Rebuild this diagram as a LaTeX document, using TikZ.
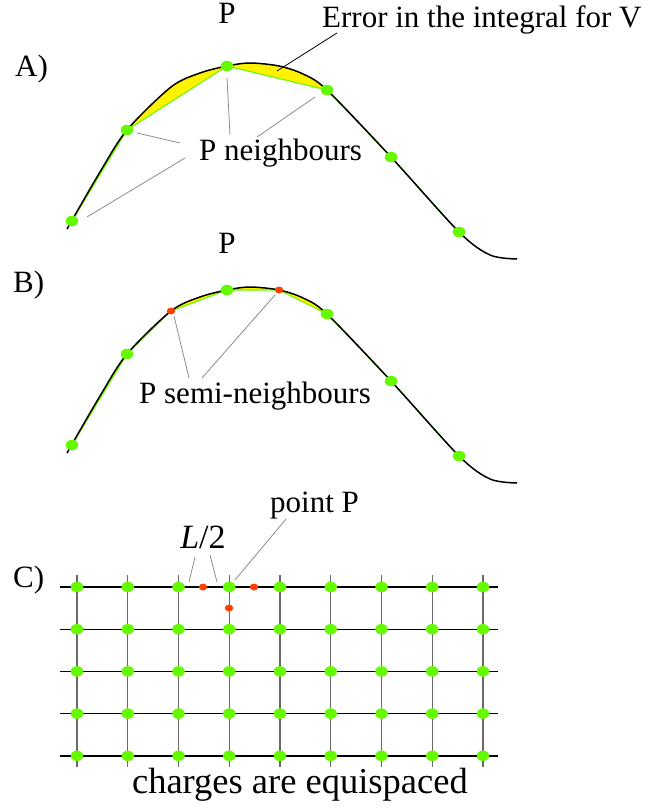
\documentclass[tikz,border=0pt]{standalone}
\usepackage{fontspec}
\setmainfont{Liberation Serif}
\usetikzlibrary{shapes.geometric,calc}
\definecolor{dotgreen}{RGB}{102,250,0}
\definecolor{dotred}{RGB}{255,64,0}
\definecolor{leadgray}{RGB}{140,140,140}
\definecolor{gridgray}{RGB}{105,105,105}
\begin{document}
\begin{tikzpicture}[x=1pt,y=-1pt,
  lbl/.style={inner sep=0pt,font=\fontsize{31}{37}\selectfont},
  gdot/.style={ellipse,fill=dotgreen,inner sep=0pt,minimum width=12.5pt,minimum height=10.5pt},
  rdot/.style={ellipse,fill=dotred,inner sep=0pt,minimum width=8.5pt,minimum height=7pt},
  curveline/.style={line width=1.5pt,black},
  polyline/.style={line width=1.1pt,dotgreen},
  leader/.style={line width=0.8pt,leadgray},
  hline/.style={line width=1.4pt,black},
  vline/.style={line width=1.4pt,gridgray}]
\useasboundingbox (0,0) rectangle (652,808);

% ---------------- Panel A ----------------
\begin{scope}
  \clip (60,0) rectangle (459,240);
  \fill[yellow] plot[smooth] coordinates {(67,229) (100,172) (127,130) (171,87) (200,73) (227,66) (250,63) (279,66) (303,74) (327,90) (391,157) (459,232) (490,255) (517,259)}
    -- (459,232) -- (391,157) -- (327,90) -- (227,66) -- (127,130) -- (72,221) -- cycle;
\end{scope}
\draw[polyline] (72,221) -- (127,130) -- (227,66) -- (327,90) -- (391,157) -- (459,232);
\draw[curveline] plot[smooth] coordinates {(67,229) (100,172) (127,130) (171,87) (200,73) (227,66) (250,63) (279,66) (303,74) (327,90) (391,157) (459,232) (490,255) (517,259)};
\node[gdot] (a1) at (72,221) {};
\node[gdot] (a2) at (127,130) {};
\node[gdot] (a3) at (227,66) {};
\node[gdot] (a4) at (327,90) {};
\node[gdot] (a5) at (391,157) {};
\node[gdot] (a6) at (459,232) {};

\node[lbl,anchor=base west] (labA) at (15,76) {A)};
\node[lbl,anchor=base] (pA) at (227,24) {P};
\node[lbl,anchor=base west] (err) at (322,28) {Error in the integral for V};
\node[lbl,anchor=base west] (pnb) at (199,160) {P neighbours};

\coordinate (e1) at (337,33); \coordinate (e2) at (277,71);
\draw[line width=0.8pt,black] (e1) -- (e2);
\coordinate (l1s) at (137,133); \coordinate (l1e) at (180,143);
\coordinate (l2s) at (87,217);  \coordinate (l2e) at (185,158);
\coordinate (l3s) at (227,78);  \coordinate (l3e) at (230,135);
\coordinate (l4s) at (315,97);  \coordinate (l4e) at (257,137);
\draw[leader] (l1s) -- (l1e);
\draw[leader] (l2s) -- (l2e);
\draw[leader] (l3s) -- (l3e);
\draw[leader] (l4s) -- (l4e);

% ---------------- Panel B ----------------
\begin{scope}[shift={(0,224)}]
  \begin{scope}
    \clip (60,0) rectangle (459,240);
    \fill[yellow] plot[smooth] coordinates {(67,229) (100,172) (127,130) (171,87) (200,73) (227,66) (250,63) (279,66) (303,74) (327,90) (391,157) (459,232) (490,255) (517,259)}
      -- (459,232) -- (391,157) -- (327,90) -- (279,66) -- (227,66) -- (171,87) -- (127,130) -- (72,221) -- cycle;
  \end{scope}
  \draw[polyline] (72,221) -- (127,130) -- (171,87) -- (227,66) -- (279,66) -- (327,90) -- (391,157) -- (459,232);
  \draw[curveline] plot[smooth] coordinates {(67,229) (100,172) (127,130) (171,87) (200,73) (227,66) (250,63) (279,66) (303,74) (327,90) (391,157) (459,232) (490,255) (517,259)};
  \node[gdot] (b1) at (72,221) {};
  \node[gdot] (b2) at (127,130) {};
  \node[gdot] (b3) at (227,66) {};
  \node[gdot] (b4) at (327,90) {};
  \node[gdot] (b5) at (391,157) {};
  \node[gdot] (b6) at (459,232) {};
  \node[rdot] (br1) at (171,87) {};
  \node[rdot] (br2) at (279,66) {};
\end{scope}
\node[lbl,anchor=base west] (labB) at (13,292) {B)};
\node[lbl,anchor=base] (pB) at (227,253) {P};
\node[lbl,anchor=base west] (psn) at (139,403) {P semi-neighbours};
\coordinate (m1s) at (174,316); \coordinate (m1e) at (189,378);
\coordinate (m2s) at (275,295); \coordinate (m2e) at (202,378);
\draw[leader] (m1s) -- (m1e);
\draw[leader] (m2s) -- (m2e);

% ---------------- Panel C ----------------
\foreach \j in {0,...,4} {
  \draw[hline] (60,{587+42.2*\j}) -- (498,{587+42.2*\j});
}
\foreach \i in {0,...,8} {
  \draw[vline] ({77+50.75*\i},575) -- ({77+50.75*\i},767);
}
\foreach \i in {0,...,8} {
  \foreach \j in {0,...,4} {
    \node[gdot] (g\i-\j) at ({77+50.75*\i},{587+42.2*\j}) {};
  }
}
\node[rdot] (c1) at (203,587) {};
\node[rdot] (c2) at (254,587) {};
\node[rdot] (c3) at (229,608) {};

\node[lbl,anchor=base west] (labC) at (13,587) {C)};
\node[lbl,anchor=base,font=\fontsize{34}{40}\selectfont] (half) at (203,548) {\textit{L}/2};
\node[lbl,anchor=base west] (ptP) at (270,512) {point P};
\node[lbl,anchor=base east,font=\fontsize{36.5}{43}\selectfont] (eq) at (468,793) {charges are equispaced};
\coordinate (h1s) at (189,582); \coordinate (h1e) at (195,557);
\coordinate (h2s) at (217,582); \coordinate (h2e) at (210,555);
\coordinate (p1s) at (235,580); \coordinate (p1e) at (286,519);
\draw[leader] (h1s) -- (h1e);
\draw[leader] (h2s) -- (h2e);
\draw[leader] (p1s) -- (p1e);
\end{tikzpicture}
\end{document}
